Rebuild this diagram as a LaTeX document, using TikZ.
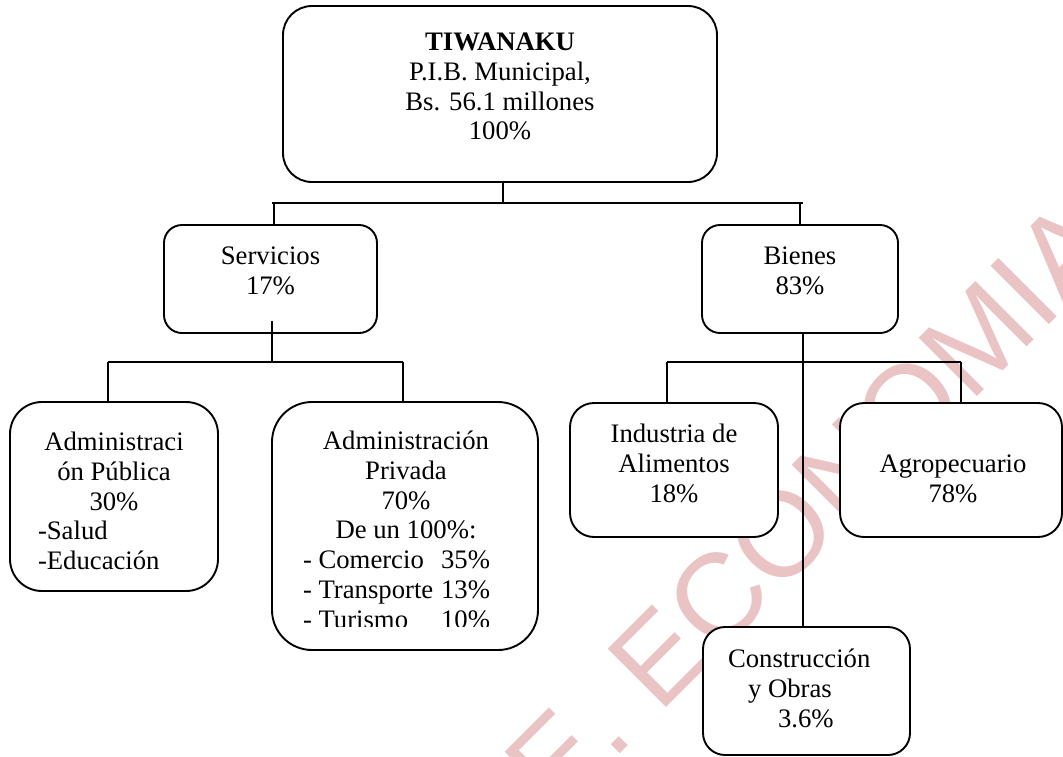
\documentclass[tikz,border=0pt]{standalone}
\usepackage{fontspec}
\setmainfont{Liberation Serif}
\newfontfamily\wmfont{Liberation Sans}
\definecolor{wmpink}{RGB}{234,196,197}
\tikzset{
  box/.style={draw, line width=1.9pt, fill=white, inner sep=0pt, outer sep=0pt},
  conn/.style={line width=1.7pt},
  txt/.style={inner sep=0pt, outer sep=0pt, align=center, font=\fontsize{26.7}{29.7}\selectfont},
  txtl/.style={txt, align=left},
  wm/.style={inner sep=0pt, text=wmpink, font=\wmfont\fontsize{120}{120}\selectfont}
}
\begin{document}
\begin{tikzpicture}[x=1pt,y=-1pt]
\useasboundingbox (0,0) rectangle (1063,756);
\clip (0,0) rectangle (1063,756);
% watermark
\node[wm, rotate=45, anchor=base west] (wmk) at (556,818) {E. ECONOMIA};
% boxes
\node[box, rounded corners=29pt, minimum width=434pt, minimum height=176pt] (top) at (500,94) {};
\node[box, rounded corners=18pt, minimum width=213pt, minimum height=108pt] (serv) at (270.5,279) {};
\node[box, rounded corners=18pt, minimum width=196pt, minimum height=108pt] (bien) at (800,279) {};
\node[box, rounded corners=32pt, minimum width=208pt, minimum height=189pt] (apub) at (114,496.5) {};
\node[box, rounded corners=40pt, minimum width=266pt, minimum height=248pt] (apriv) at (405,526) {};
\node[box, rounded corners=24pt, minimum width=208pt, minimum height=134pt] (ind) at (674,470) {};
\node[box, rounded corners=24pt, minimum width=222pt, minimum height=134pt] (agro) at (951,470) {};
\node[box, rounded corners=22pt, minimum width=207pt, minimum height=128pt] (cons) at (806.5,691) {};
% texts
\node[txt, anchor=north] (topT) at (500,30) {\strut\textbf{TIWANAKU}\\\strut P.I.B. Municipal,\\\strut Bs. 56.1 millones\\\strut 100\%};
\node[txt, anchor=north] (servT) at (270.5,244) {\strut Servicios\\\strut 17\%};
\node[txt, anchor=north] (bienT) at (800,244) {\strut Bienes\\\strut 83\%};
\node[txt, anchor=north] (apubT) at (114,430) {\strut Administraci\\\strut ón Pública\\\strut 30\%};
\node[txtl, anchor=north west] (apubL) at (38,519) {\strut -Salud\\\strut -Educación};
\node[txt, anchor=north] (aprivT) at (406,429) {\strut Administración\\\strut Privada\\\strut 70\%\\\strut De un 100\%:};
\begin{scope}
\clip (272,402) rectangle (538,626);
\node[txtl, anchor=north west] (aprivL) at (303,547.8) {\strut\makebox[187pt][l]{- Comercio\hfill 35\%}\\\strut\makebox[187pt][l]{- Transporte\hfill 13\%}\\\strut\makebox[187pt][l]{- Turismo\hfill 10\%}};
\end{scope}
\node[txt, anchor=north] (indT) at (674,422) {\strut Industria de\\\strut Alimentos\\\strut 18\%};
\node[txt, anchor=north] (agroT) at (953,452) {\strut Agropecuario\\\strut 78\%};
\node[txtl, anchor=north west] (consT) at (728,647) {\strut Construcción\\\strut\hspace*{20pt}y Obras\\\strut\hspace*{50pt}3.6\%};
% connectors
\coordinate (j1) at (503,203);
\coordinate (b1L) at (272,203);
\coordinate (b1R) at (803,203);
\coordinate (s1) at (274,203);
\coordinate (bn1) at (800,203);
\coordinate (b2L) at (108,362);
\coordinate (b2R) at (403,362);
\coordinate (b3L) at (667,362);
\coordinate (b3R) at (961,362);
\draw[conn] (top.south -| j1) -- (j1);
\draw[conn] (b1L) -- (b1R);
\draw[conn] (s1) -- (s1 |- serv.north);
\draw[conn] (bn1) -- (bn1 |- bien.north);
\draw[conn] ([xshift=1.5pt,yshift=12pt]serv.south) -- ++(0,41);
\draw[conn] (b2L) -- (b2R);
\draw[conn] (b2L) -- (b2L |- apub.north);
\draw[conn] (b2R) -- (b2R |- apriv.north);
\draw[conn] ([xshift=3pt]bien.south) -- ([xshift=-3.5pt]cons.north);
\draw[conn] (b3L) -- (b3R);
\draw[conn] (b3L) -- (b3L |- ind.north);
\draw[conn] (b3R) -- (b3R |- agro.north);
\end{tikzpicture}
\end{document}
